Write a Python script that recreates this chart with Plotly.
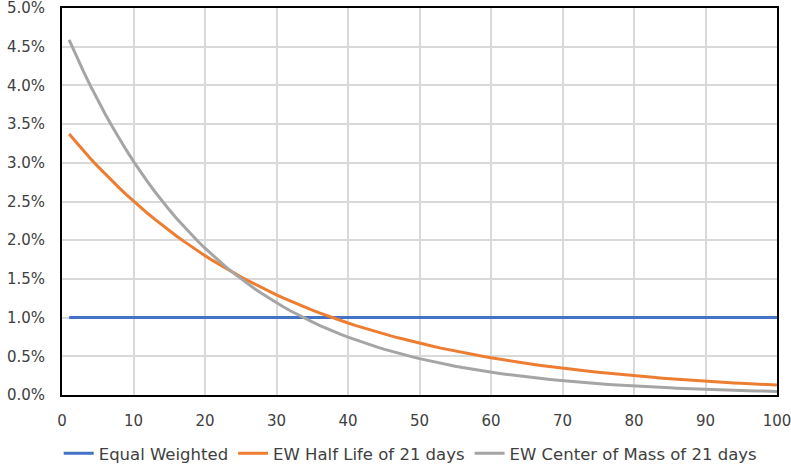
import plotly.graph_objects as go

days = list(range(1, 101))

equal_weighted = [1.0] * 100

ew_half_life_21 = [
    3.3711, 3.2616, 3.1557, 3.0533, 2.9542, 2.8582, 2.7654, 2.6757, 2.5888, 2.5047,
    2.4234, 2.3447, 2.2686, 2.1949, 2.1237, 2.0547, 1.9880, 1.9235, 1.8610, 1.8006,
    1.7421, 1.6856, 1.6308, 1.5779, 1.5267, 1.4771, 1.4291, 1.3827, 1.3379, 1.2944,
    1.2524, 1.2117, 1.1724, 1.1343, 1.0975, 1.0619, 1.0274, 0.9940, 0.9618, 0.9305,
    0.9003, 0.8711, 0.8428, 0.8154, 0.7889, 0.7633, 0.7386, 0.7146, 0.6914, 0.6689,
    0.6472, 0.6262, 0.6059, 0.5862, 0.5672, 0.5487, 0.5309, 0.5137, 0.4970, 0.4809,
    0.4653, 0.4502, 0.4355, 0.4214, 0.4077, 0.3945, 0.3817, 0.3693, 0.3573, 0.3457,
    0.3345, 0.3236, 0.3131, 0.3029, 0.2931, 0.2836, 0.2744, 0.2655, 0.2568, 0.2485,
    0.2404, 0.2326, 0.2251, 0.2178, 0.2107, 0.2039, 0.1972, 0.1908, 0.1846, 0.1786,
    0.1728, 0.1672, 0.1618, 0.1565, 0.1515, 0.1465, 0.1418, 0.1372, 0.1327, 0.1284,
]

ew_center_of_mass_21 = [
    4.5892, 4.3806, 4.1815, 3.9914, 3.8100, 3.6368, 3.4715, 3.3137, 3.1631, 3.0193,
    2.8821, 2.7511, 2.6260, 2.5066, 2.3927, 2.2840, 2.1801, 2.0810, 1.9865, 1.8962,
    1.8100, 1.7277, 1.6492, 1.5742, 1.5027, 1.4343, 1.3692, 1.3069, 1.2475, 1.1908,
    1.1367, 1.0850, 1.0357, 0.9886, 0.9437, 0.9008, 0.8598, 0.8208, 0.7835, 0.7478,
    0.7139, 0.6814, 0.6504, 0.6209, 0.5926, 0.5657, 0.5400, 0.5154, 0.4920, 0.4697,
    0.4483, 0.4279, 0.4085, 0.3899, 0.3722, 0.3553, 0.3391, 0.3237, 0.3090, 0.2949,
    0.2815, 0.2687, 0.2565, 0.2449, 0.2337, 0.2231, 0.2130, 0.2033, 0.1941, 0.1852,
    0.1768, 0.1688, 0.1611, 0.1538, 0.1468, 0.1401, 0.1338, 0.1277, 0.1219, 0.1163,
    0.1110, 0.1060, 0.1012, 0.0966, 0.0922, 0.0880, 0.0840, 0.0802, 0.0765, 0.0731,
    0.0697, 0.0666, 0.0635, 0.0607, 0.0579, 0.0553, 0.0528, 0.0504, 0.0481, 0.0459,
]

series_names = ["Equal Weighted", "EW Half Life of 21 days", "EW Center of Mass of 21 days"]
series_values = [equal_weighted, ew_half_life_21, ew_center_of_mass_21]
colors = ["#4472C4", "#ED7D31", "#A5A5A5"]

y_ticks = [0, 0.5, 1.0, 1.5, 2.0, 2.5, 3.0, 3.5, 4.0, 4.5, 5.0]
y_tick_labels = [f"{v:.1f}%" for v in y_ticks]
x_ticks = list(range(0, 101, 10))

FONT = "DejaVu Sans"
TXT = "#404040"

fig = go.Figure()
for name, vals, col in zip(series_names, series_values, colors):
    fig.add_trace(go.Scatter(
        x=days, y=vals, name=name, mode="lines",
        line=dict(color=col, width=3),
    ))

fig.update_layout(
    width=791, height=465,
    margin=dict(l=62, r=14, t=8, b=70, autoexpand=False),
    paper_bgcolor="white", plot_bgcolor="white",
    font=dict(family=FONT, size=15, color=TXT),
    showlegend=True,
    legend=dict(
        orientation="h", x=0.487, xanchor="center", y=-0.106, yanchor="top",
        font=dict(family=FONT, size=16.5, color=TXT),
        traceorder="normal", tracegroupgap=0,
    ),
)
fig.update_xaxes(
    range=[0, 100], tickvals=x_ticks, ticks="",
    showgrid=True, gridcolor="#D9D9D9", gridwidth=1.5,
    showline=True, linecolor="black", linewidth=2, mirror=True,
    zeroline=False, automargin=False, ticklabelstandoff=11,
    ticklabeloverflow="allow",
    tickfont=dict(family=FONT, size=15, color=TXT),
)
fig.update_yaxes(
    range=[0, 5], tickvals=y_ticks, ticktext=y_tick_labels, ticks="",
    showgrid=True, gridcolor="#D9D9D9", gridwidth=1.5,
    showline=True, linecolor="black", linewidth=2, mirror=True,
    zeroline=False, automargin=False, ticklabelstandoff=12,
    ticklabeloverflow="allow",
    tickfont=dict(family=FONT, size=15, color=TXT),
)

fig.write_html("out.html")
